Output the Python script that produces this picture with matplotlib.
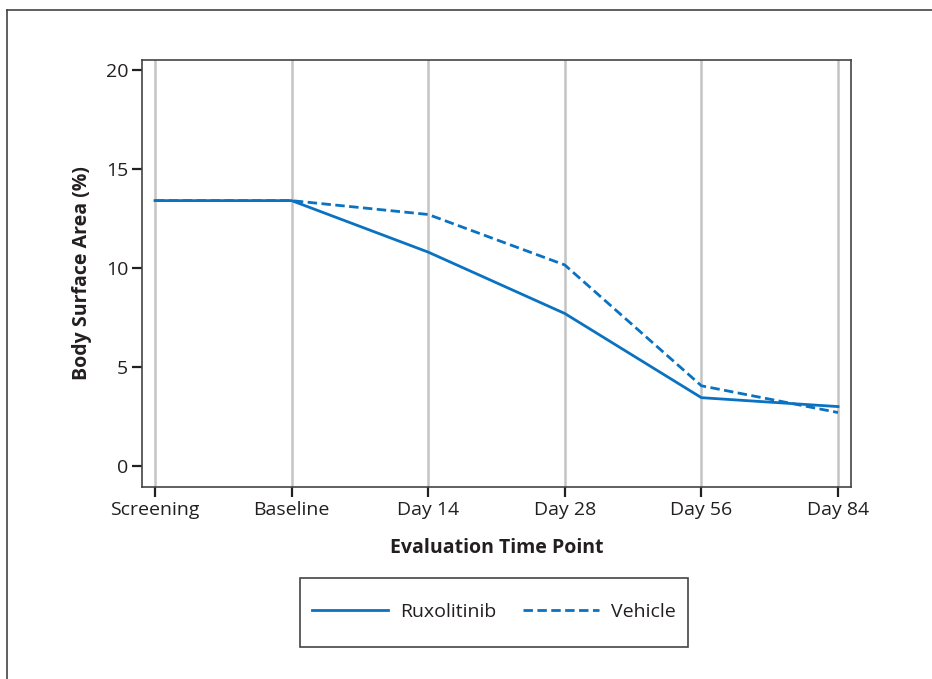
import matplotlib
matplotlib.use("Agg")
import matplotlib.pyplot as plt
from matplotlib.lines import Line2D
from matplotlib.patches import Rectangle

plt.rcParams['font.family'] = ['Open Sans', 'DejaVu Sans']

# chart data
time_points = ["Screening", "Baseline", "Day 14", "Day 28", "Day 56", "Day 84"]
ruxolitinib = [13.4, 13.4, 10.8, 7.7, 3.45, 3.0]
vehicle = [13.4, 13.4, 12.7, 10.15, 4.05, 2.7]
y_ticks = [0, 5, 10, 15, 20]

blue = "#0a72c0"
dark = "#231f20"
fs = 14
dashed = (0, (3.4, 1.6))

fig = plt.figure(figsize=(9.32, 6.79), dpi=100)
ax = fig.add_axes([142 / 932, 1 - 487 / 679, (851 - 142) / 932, (487 - 60) / 679])

x = list(range(len(time_points)))
ax.plot(x, ruxolitinib, color=blue, lw=2.0, ls="-", zorder=3)
ax.plot(x, vehicle, color=blue, lw=2.0, ls=dashed, zorder=3)

for xi in x:
    ax.axvline(xi, color="#c4c4c4", lw=1.8, zorder=1)

ax.set_xlim(-0.095, 5.095)
ax.set_ylim(-1.06, 20.5)
ax.set_xticks(x)
ax.set_xticklabels(time_points, fontsize=fs, color=dark)
ax.set_yticks(y_ticks)
ax.set_yticklabels([str(v) for v in y_ticks], fontsize=fs, color=dark)
ax.tick_params(direction="out", length=7, width=1.6, color=dark, pad=3)
for s in ax.spines.values():
    s.set_color("#444444")
    s.set_linewidth(1.2)

ax.set_xlabel("Evaluation Time Point", fontsize=fs, fontweight="bold", color=dark, labelpad=14)
ax.set_ylabel("Body Surface Area (%)", fontsize=fs, fontweight="bold", color=dark, labelpad=10)

# legend, with its box drawn separately
handles = [Line2D([], [], color=blue, lw=2.0, ls="-"),
           Line2D([], [], color=blue, lw=2.0, ls=dashed)]
leg = fig.legend(handles, ["Ruxolitinib", "Vehicle"], ncol=2, loc="center",
                 bbox_to_anchor=(494 / 932, 1 - 612 / 679), fontsize=fs,
                 frameon=False, handlelength=3.9, handletextpad=0.6,
                 columnspacing=1.4, borderpad=0, borderaxespad=0)
for t in leg.get_texts():
    t.set_color(dark)
fig.add_artist(Rectangle((300 / 932, 1 - 647 / 679), 388 / 932, 69 / 679,
                         transform=fig.transFigure, fill=False,
                         edgecolor="#444444", lw=1.2))

# outer frame (top and left edges)
fig.add_artist(Line2D([7 / 932, 7 / 932], [0, 1 - 10 / 679], color="#444444", lw=1.2))
fig.add_artist(Line2D([7 / 932, 1], [1 - 10 / 679, 1 - 10 / 679], color="#444444", lw=1.2))

fig.savefig("out.png", dpi=100)
